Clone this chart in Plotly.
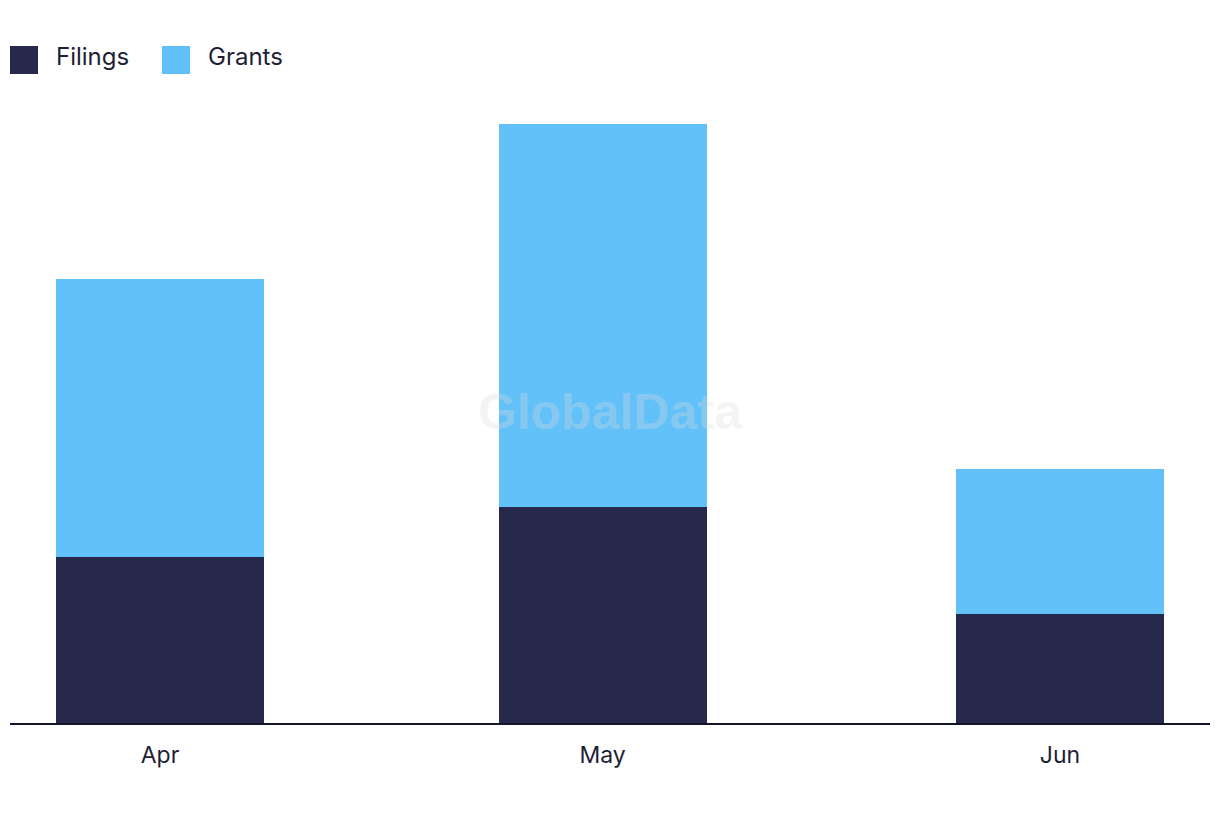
import plotly.graph_objects as go

months = ["2024-04-01", "2024-05-01", "2024-06-01"]
month_labels = ["Apr", "May", "Jun"]
filings = [33.2, 43.2, 21.8]
grants = [55.6, 76.6, 29.0]

FIL_COLOR = "#27294C"
GRA_COLOR = "#63C1F9"
TEXT_COLOR = "#1E1E36"
FONT = "Inter, Open Sans, sans-serif"

DAY_MS = 86400000
bar_width = 14.1 * DAY_MS

fig = go.Figure()
fig.add_trace(go.Bar(x=months, y=filings, name="Filings", marker_color=FIL_COLOR,
                     width=bar_width, marker_line_width=0))
fig.add_trace(go.Bar(x=months, y=grants, name="Grants", marker_color=GRA_COLOR,
                     width=bar_width, marker_line_width=0))

# plot area geometry (pixels)
L, R, T, B = 10, 10, 100, 99
W, H = 1220, 822
pw, ph = W - L - R, H - T - B


def px_x(x):
    return (x - L) / pw


def px_y(y):
    return (H - B - y) / ph


# manual legend
legend_items = [("Filings", FIL_COLOR, 10, 54), ("Grants", GRA_COLOR, 162, 206)]
shapes = []
annotations = []
for name, col, sx, tx in legend_items:
    shapes.append(dict(type="rect", xref="paper", yref="paper",
                       x0=px_x(sx), x1=px_x(sx + 28), y0=px_y(74), y1=px_y(46),
                       fillcolor=col, line=dict(width=0)))
    annotations.append(dict(xref="paper", yref="paper", x=px_x(tx), y=px_y(57),
                            xanchor="left", yanchor="middle", showarrow=False,
                            text=name, font=dict(family=FONT, size=24, color=TEXT_COLOR)))

# watermark
annotations.append(dict(xref="paper", yref="paper", x=px_x(610), y=px_y(412),
                        xanchor="center", yanchor="middle", showarrow=False,
                        text="<b>GlobalData</b>",
                        font=dict(family="Liberation Sans, Arial, sans-serif", size=50,
                                  color="rgba(220,220,220,0.3)")))

fig.update_layout(
    barmode="stack",
    width=W, height=H,
    margin=dict(l=L, r=R, t=T, b=B, pad=0),
    paper_bgcolor="white", plot_bgcolor="white",
    showlegend=False,
    shapes=shapes,
    annotations=annotations,
    font=dict(family=FONT, color=TEXT_COLOR),
    xaxis=dict(
        type="date",
        range=["2024-03-21 20:00", "2024-06-11 04:00"],
        tickvals=months, ticktext=month_labels,
        showgrid=False, zeroline=False,
        showline=True, linecolor="#15152A", linewidth=2,
        ticks="outside", ticklen=10, tickcolor="rgba(0,0,0,0)",
        tickfont=dict(family=FONT, size=23, color=TEXT_COLOR),
        fixedrange=True,
    ),
    yaxis=dict(
        range=[0, ph / 5.0],
        visible=False, showgrid=False, zeroline=False,
        fixedrange=True,
    ),
)

fig.write_html("out.html")
